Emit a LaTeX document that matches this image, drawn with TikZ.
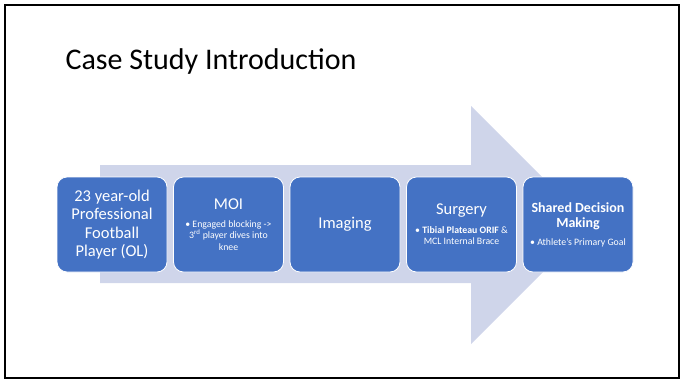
\documentclass[tikz,border=0pt]{standalone}
\usepackage{fontspec}
\setmainfont{Carlito}
\definecolor{boxblue}{HTML}{4472C4}
\definecolor{arrowgray}{HTML}{CFD5EA}
\newcommand{\pointtext}[1]{{\fontsize{9.8}{11.5}\selectfont\spaceskip=0pt\xspaceskip=0pt #1\par}}

\begin{document}
\begin{tikzpicture}[x=1pt, y=-1pt,
                        every node/.style={font=\fontsize{16.5}{18.5}\selectfont, text=white},
                        stagebox/.style={rectangle, rounded corners=10pt, draw=white, line width=0.8pt,
                                         fill=boxblue, minimum width=110pt, minimum height=95pt,
                                         text width=106pt, inner sep=2pt, align=flush center}]
                        \useasboundingbox (0,0) rectangle (685,381);

                        % Slide frame and title
                        \draw[line width=2pt] (5,5) rectangle (679,378);
                        \node[anchor=base west, text=black, font=\fontsize{30}{36}\selectfont] (title) at (62,69) {Case Study Introduction};

                        % Big arrow in the back
                        \fill[arrowgray] (100,165) -- (471,165) -- (471,106) -- (590,225) -- (471,344) -- (471,283) -- (100,283) -- cycle;

                        % Stages
                        \node[stagebox] (player) at (112,224.5) {23 year-old\\Professional\\Football\\Player (OL)}; % Patient
                        \node[stagebox] (moi) at (228.5,224.5) {MOI\par\vspace{6pt}
                            \pointtext{\textbullet\ Engaged blocking ->\\3\textsuperscript{rd} player dives into\\knee}}; % Mechanism
                        \node[stagebox] (imaging) at (345,224.5) {Imaging}; % Imaging
                        \node[stagebox] (surgery) at (461.5,224.5) {Surgery\par\vspace{7pt}
                            \pointtext{\textbullet\ \textbf{Tibial Plateau ORIF} \&\\MCL Internal Brace}}; % Surgery
                        \node[stagebox] (sdm) at (578,224.5) {{\bfseries\fontsize{14}{15.5}\selectfont Shared Decision\\Making\par}\vspace{6pt}
                            \pointtext{\textbullet\ Athlete’s Primary Goal}}; % Decision
                    \end{tikzpicture}
\end{document}
